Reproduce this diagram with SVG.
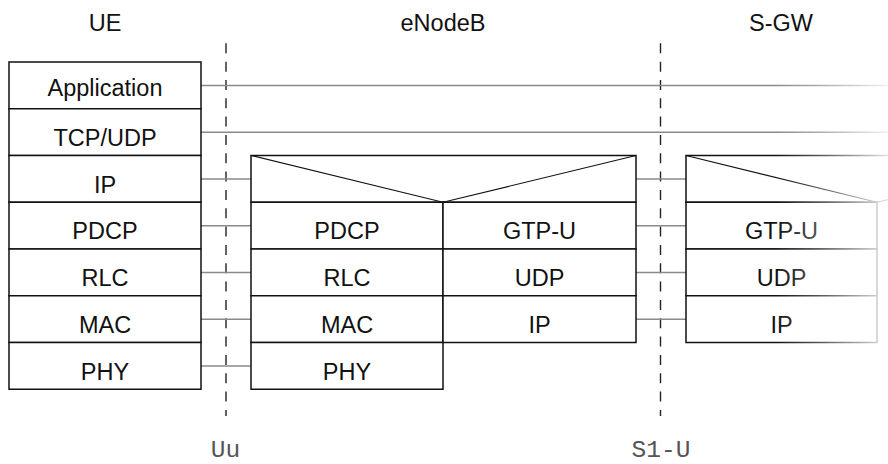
<svg xmlns="http://www.w3.org/2000/svg" width="888" height="464" viewBox="0 0 888 464">
  <style>
    .box { fill: #ffffff; stroke: #111111; stroke-width: 1.5; }
    .edge { fill: none; stroke: #111111; stroke-width: 1.5; }
    .diag { fill: none; stroke: #111111; stroke-width: 1.2; }
    .lbl { font-family: "Liberation Sans", Arial, Helvetica, sans-serif; font-size: 23.5px; fill: #111111; text-anchor: middle; }
    .link { stroke: #8a8a8a; stroke-width: 1.5; fill: none; }
    .iface { stroke: #222222; stroke-width: 1.4; stroke-dasharray: 10 8.33; fill: none; }
    .ifl { font-family: "Liberation Mono", "Courier New", monospace; font-size: 24.5px; fill: #555555; text-anchor: middle; }
  </style>
  <defs>
    <linearGradient id="fade" x1="0" y1="0" x2="1" y2="0">
      <stop offset="0" stop-color="#ffffff" stop-opacity="0"/>
      <stop offset="0.4" stop-color="#ffffff" stop-opacity="0.3"/>
      <stop offset="1" stop-color="#ffffff" stop-opacity="0.88"/>
    </linearGradient>
  </defs>

  <rect width="888" height="464" fill="#ffffff"/>

  <!-- column titles -->
  <g id="titles">
    <text class="lbl" x="105" y="31">UE</text>
    <text class="lbl" x="443" y="31">eNodeB</text>
    <text class="lbl" x="781" y="31">S-GW</text>
  </g>

  <!-- interface boundaries -->
  <g id="interfaces">
    <line class="iface" x1="226" y1="43.3" x2="226" y2="416"/>
    <line class="iface" x1="660.5" y1="43.3" x2="660.5" y2="416"/>
    <text class="ifl" x="225.5" y="457">Uu</text>
    <text class="ifl" x="661" y="457">S1-U</text>
  </g>

  <!-- peer-to-peer links between layers -->
  <g id="connectors">
    <line class="link" x1="201" y1="85.5" x2="888" y2="85.5"/>
    <line class="link" x1="201" y1="132.2" x2="888" y2="132.2"/>
    <line class="link" x1="201" y1="179" x2="251" y2="179"/>
    <line class="link" x1="201" y1="225.7" x2="251" y2="225.7"/>
    <line class="link" x1="201" y1="272.5" x2="251" y2="272.5"/>
    <line class="link" x1="201" y1="319.2" x2="251" y2="319.2"/>
    <line class="link" x1="201" y1="366" x2="251" y2="366"/>
    <line class="link" x1="636" y1="179" x2="686" y2="179"/>
    <line class="link" x1="636" y1="225.7" x2="686" y2="225.7"/>
    <line class="link" x1="636" y1="272.5" x2="686" y2="272.5"/>
    <line class="link" x1="636" y1="319.2" x2="686" y2="319.2"/>
  </g>

  <!-- UE protocol stack -->
  <g id="ue">
    <rect class="box" x="9" y="62" width="192" height="46.75"/>
    <rect class="box" x="9" y="108.75" width="192" height="46.75"/>
    <rect class="box" x="9" y="155.5" width="192" height="46.75"/>
    <rect class="box" x="9" y="202.25" width="192" height="46.75"/>
    <rect class="box" x="9" y="249" width="192" height="46.75"/>
    <rect class="box" x="9" y="295.75" width="192" height="46.75"/>
    <rect class="box" x="9" y="342.5" width="192" height="46.75"/>
    <text class="lbl" x="105" y="95.5">Application</text>
    <text class="lbl" x="105" y="145.7">TCP/UDP</text>
    <text class="lbl" x="105" y="192.5">IP</text>
    <text class="lbl" x="105" y="239.2">PDCP</text>
    <text class="lbl" x="105" y="286">RLC</text>
    <text class="lbl" x="105" y="332.7">MAC</text>
    <text class="lbl" x="105" y="379.5">PHY</text>
  </g>

  <!-- eNodeB: radio side and S1 side stacks -->
  <g id="enodeb">
    <rect class="box" x="251" y="155.5" width="385" height="46.75"/>
    <polyline class="diag" points="251,155.5 443,202.25 636,155.5"/>
    <rect class="box" x="251" y="202.25" width="192" height="46.75"/>
    <rect class="box" x="251" y="249" width="192" height="46.75"/>
    <rect class="box" x="251" y="295.75" width="192" height="46.75"/>
    <rect class="box" x="251" y="342.5" width="192" height="46.75"/>
    <rect class="box" x="443" y="202.25" width="193" height="46.75"/>
    <rect class="box" x="443" y="249" width="193" height="46.75"/>
    <rect class="box" x="443" y="295.75" width="193" height="46.75"/>
    <text class="lbl" x="347" y="239.2">PDCP</text>
    <text class="lbl" x="347" y="286">RLC</text>
    <text class="lbl" x="347" y="332.7">MAC</text>
    <text class="lbl" x="347" y="379.5">PHY</text>
    <text class="lbl" x="539.5" y="239.2">GTP-U</text>
    <text class="lbl" x="539.5" y="286">UDP</text>
    <text class="lbl" x="539.5" y="332.7">IP</text>
  </g>

  <!-- S-GW stack, running off the right edge -->
  <g id="sgw">
    <rect class="box" x="686" y="202.25" width="191" height="46.75"/>
    <rect class="box" x="686" y="249" width="191" height="46.75"/>
    <rect class="box" x="686" y="295.75" width="191" height="46.75"/>
    <polyline class="edge" points="888,155.5 686,155.5 686,202.25 877,202.25"/>
    <polyline class="diag" points="686,155.5 877,202.25 888,199.6"/>
    <text class="lbl" x="781.5" y="239.2">GTP-U</text>
    <text class="lbl" x="781.5" y="286">UDP</text>
    <text class="lbl" x="781.5" y="332.7">IP</text>
  </g>

  <!-- fade-out towards the right edge -->
  <rect x="775" y="44" width="113" height="310" fill="url(#fade)"/>
</svg>
